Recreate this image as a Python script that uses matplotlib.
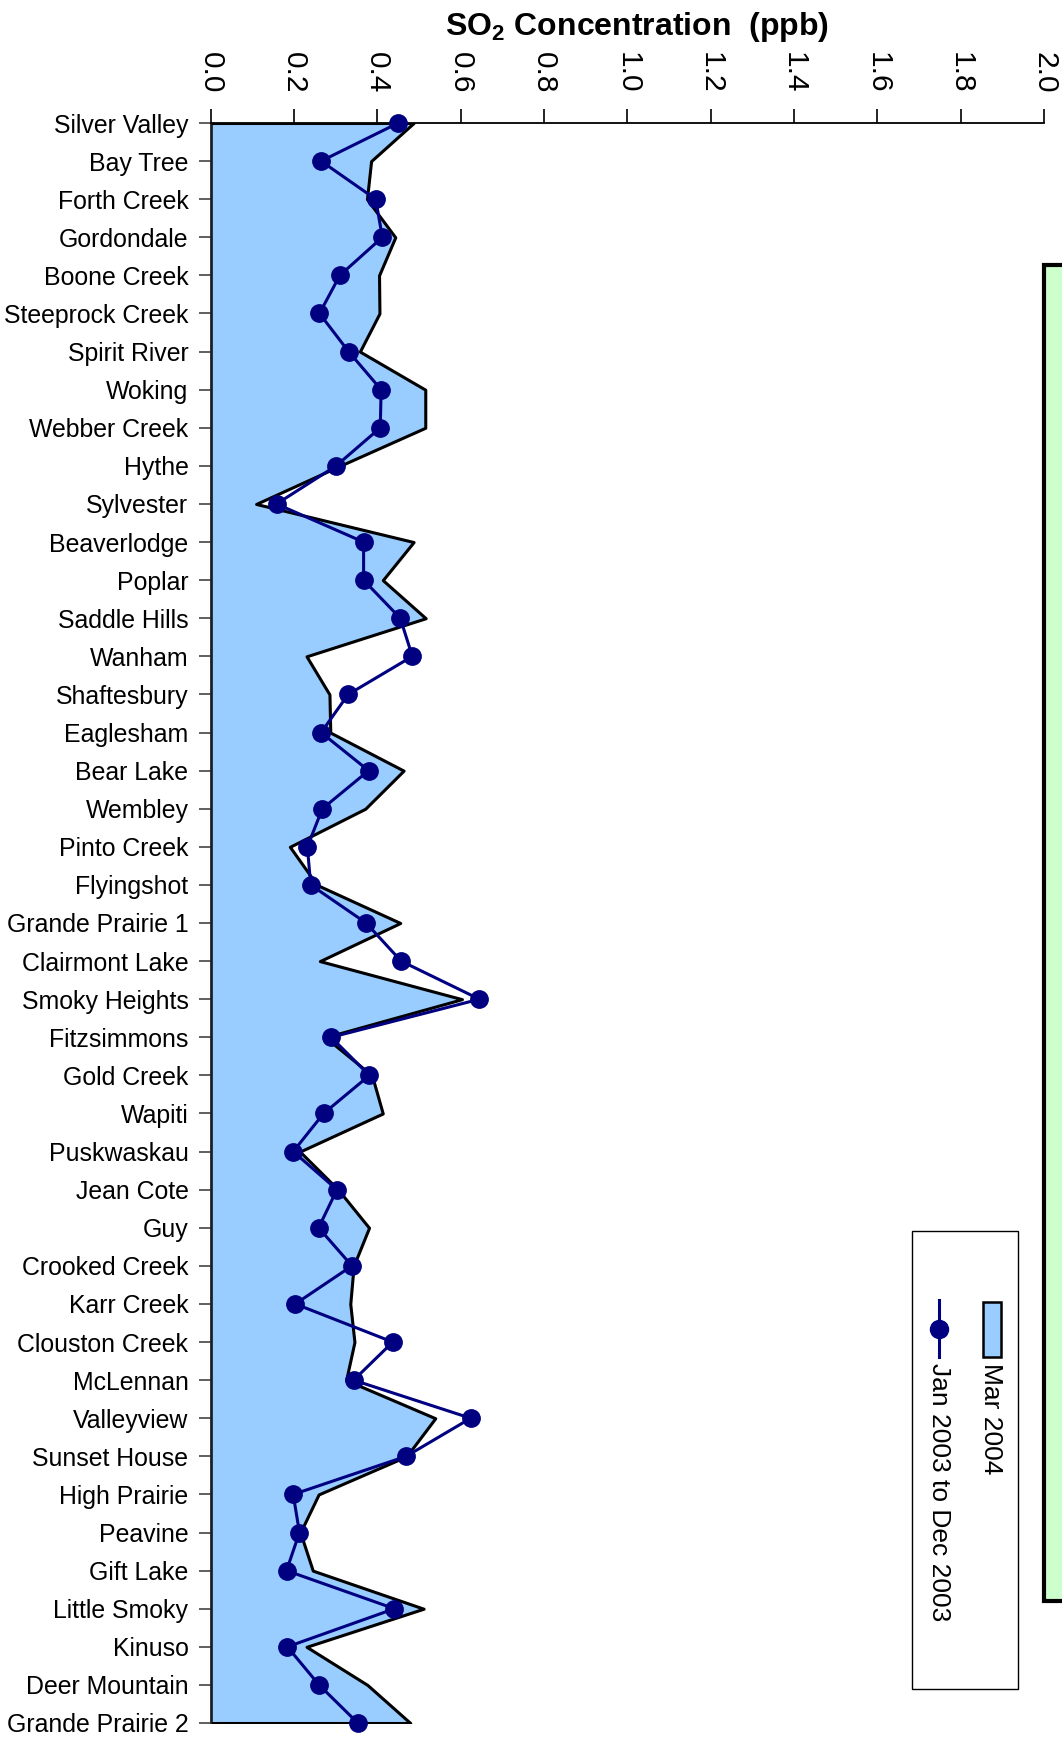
import numpy as np
import matplotlib
matplotlib.use('Agg')
import matplotlib.pyplot as plt
from matplotlib.patches import Rectangle
from matplotlib.lines import Line2D

plt.rcParams['font.family'] = ['Liberation Sans', 'DejaVu Sans']
plt.rcParams['mathtext.fontset'] = 'custom'
plt.rcParams['mathtext.rm'] = 'Liberation Sans'
plt.rcParams['mathtext.bf'] = 'Liberation Sans:bold'

# --- Data ---
sites = ['Silver Valley', 'Bay Tree', 'Forth Creek', 'Gordondale', 'Boone Creek',
         'Steeprock Creek', 'Spirit River', 'Woking', 'Webber Creek', 'Hythe',
         'Sylvester', 'Beaverlodge', 'Poplar', 'Saddle Hills', 'Wanham',
         'Shaftesbury', 'Eaglesham', 'Bear Lake', 'Wembley', 'Pinto Creek',
         'Flyingshot', 'Grande Prairie 1', 'Clairmont Lake', 'Smoky Heights',
         'Fitzsimmons', 'Gold Creek', 'Wapiti', 'Puskwaskau', 'Jean Cote', 'Guy',
         'Crooked Creek', 'Karr Creek', 'Clouston Creek', 'McLennan', 'Valleyview',
         'Sunset House', 'High Prairie', 'Peavine', 'Gift Lake', 'Little Smoky',
         'Kinuso', 'Deer Mountain', 'Grande Prairie 2']

mar_2004 = [0.487, 0.385, 0.375, 0.443, 0.404, 0.405, 0.358, 0.515, 0.515, 0.31,
            0.109, 0.487, 0.413, 0.516, 0.23, 0.285, 0.287, 0.463, 0.371, 0.19,
            0.255, 0.455, 0.262, 0.603, 0.275, 0.387, 0.413, 0.214, 0.306, 0.38,
            0.343, 0.335, 0.345, 0.325, 0.539, 0.47, 0.259, 0.215, 0.245, 0.511,
            0.23, 0.376, 0.479]

year_2003 = [0.450, 0.265, 0.396, 0.412, 0.310, 0.261, 0.331, 0.409, 0.407, 0.301,
             0.158, 0.367, 0.367, 0.455, 0.484, 0.330, 0.265, 0.379, 0.268, 0.232,
             0.240, 0.373, 0.457, 0.645, 0.289, 0.381, 0.271, 0.198, 0.303, 0.259,
             0.339, 0.203, 0.437, 0.343, 0.624, 0.469, 0.198, 0.213, 0.182, 0.441,
             0.184, 0.260, 0.353]

series_names = ['Mar 2004', 'Jan 2003 to Dec 2003']
x_ticks = [0.0, 0.2, 0.4, 0.6, 0.8, 1.0, 1.2, 1.4, 1.6, 1.8, 2.0]

W, H = 1062, 1737
def fx(px):
    return px / W
def fy(py):
    return 1 - py / H

fill_col = '#99CCFF'
line_col = '#000080'

# --- Plot ---
fig = plt.figure(figsize=(W / 100, H / 100), dpi=100)
ax = fig.add_axes([fx(210.7), fy(1723), (1044 - 210.7) / W, (1723 - 123) / H])

y = np.arange(len(sites))
ax.fill_betweenx(y, 0, mar_2004, facecolor=fill_col, edgecolor='black',
                 linewidth=2.2, zorder=2)
ax.plot(year_2003, y, color=line_col, linewidth=2.2, marker='o', markersize=12.5,
        zorder=3, clip_on=False)

ax.set_xlim(0, 2.0)
ax.set_ylim(len(sites) - 1, 0)

ax.xaxis.tick_top()
ax.set_xticks(x_ticks)
ax.set_xticklabels([f'{v:.1f}' for v in x_ticks], rotation=-90)
ax.tick_params(axis='x', direction='out', length=10, width=1.2, pad=11,
               labelsize=21.5)
ax.set_yticks(y)
ax.set_yticklabels(sites)
ax.tick_params(axis='y', direction='out', length=9, width=1.2, pad=7,
               labelsize=17.9, color='#444444')

for s in ['right', 'bottom']:
    ax.spines[s].set_visible(False)
for s in ['top', 'left']:
    ax.spines[s].set_linewidth(1.3)
ax.spines['left'].set_color('#222222')

fig.text(fx(636.5), fy(35), r'SO$_\mathbf{2}$ Concentration  (ppb)',
         ha='center', va='baseline', fontsize=23, fontweight='bold')

# --- Green box on the right ---
fig.add_artist(Rectangle((fx(1044.3), fy(1601)), 0.2, (1601 - 265.3) / H,
                         transform=fig.transFigure, facecolor='#CCFFCC',
                         edgecolor='black', linewidth=3.0))

# --- Rotated legend ---
fig.add_artist(Rectangle((fx(912), fy(1689)), (1018 - 912) / W, (1689 - 1231) / H,
                         transform=fig.transFigure, facecolor='white',
                         edgecolor='black', linewidth=1.0))
fig.add_artist(Rectangle((fx(983), fy(1357)), (1001 - 983) / W, (1357 - 1302) / H,
                         transform=fig.transFigure, facecolor=fill_col,
                         edgecolor='black', linewidth=1.8))
fig.add_artist(Line2D([fx(939), fx(939)], [fy(1300), fy(1357)],
                      transform=fig.transFigure, color=line_col, linewidth=2.2))
fig.add_artist(Line2D([fx(939)], [fy(1329)], transform=fig.transFigure,
                      color=line_col, marker='o', markersize=13, linestyle='none'))
fig.text(fx(991), fy(1363), series_names[0], rotation=-90, ha='center', va='top',
         fontsize=19)
fig.text(fx(939), fy(1363), series_names[1], rotation=-90, ha='center', va='top',
         fontsize=19)

plt.savefig('out.png', dpi=100)
print("Plot saved")
